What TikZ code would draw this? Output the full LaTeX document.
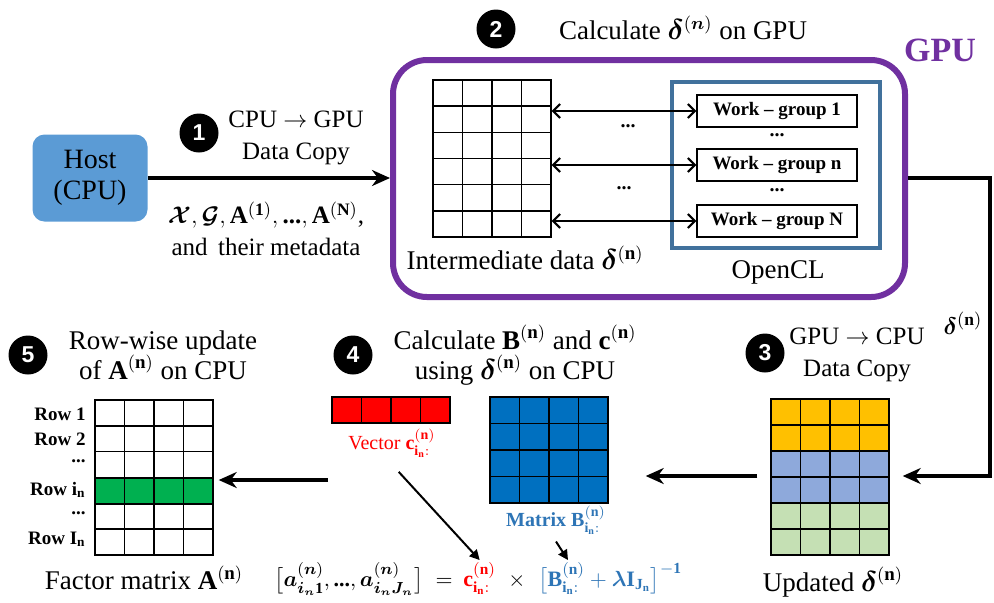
\documentclass[tikz,border=0pt]{standalone}
\usepackage{amsmath,amssymb,bm}
\usepackage{fontspec}
\setmainfont{Liberation Serif}
\setsansfont{Liberation Sans}
\usetikzlibrary{arrows.meta,fit,positioning}

\definecolor{hostblue}{HTML}{5B9BD5}
\definecolor{gpupurple}{HTML}{7030A0}
\definecolor{clblue}{HTML}{41719C}
\definecolor{vecred}{HTML}{FF0000}
\definecolor{matblue}{HTML}{0070C0}
\definecolor{labblue}{HTML}{2E75B6}
\definecolor{rowgreen}{HTML}{00B050}
\definecolor{updorange}{HTML}{FFC000}
\definecolor{updblue}{HTML}{8EA9DB}
\definecolor{updgreen}{HTML}{C5E0B4}

\newcommand{\dn}{\bm{\delta}^{(\mathbf{n})}}
\newcommand{\An}{\mathbf{A}^{(\mathbf{n})}}
\newcommand{\threedots}{\text{\bfseries ...}}
\newcommand{\lhsrow}{\bigl[\bm{a}^{(\bm{n})}_{\bm{i_n}\mathbf{1}},\threedots,\bm{a}^{(\bm{n})}_{\bm{i_n}\bm{J_n}}\bigr]\;=}
\newcommand{\cvecrow}{\mathbf{c}^{(\mathbf{n})}_{\mathbf{i_n:}}}
\newcommand{\bmatrow}{\bigl[\mathbf{B}^{(\mathbf{n})}_{\mathbf{i_n:}}+\bm{\lambda}\mathbf{I}_{\mathbf{J_n}}\bigr]}

\begin{document}
\begin{tikzpicture}[
  x=0.5pt, y=-0.5pt,
  stepnum/.style = {circle,fill=black,text=white,inner sep=0pt,minimum size=19.5pt,
    font=\sffamily\bfseries\fontsize{11.5}{11.5}\selectfont},
  lbl/.style = {align=center,inner sep=1pt,font=\fontsize{12.5}{16}\selectfont},
  ttl/.style = {align=center,inner sep=1pt,font=\fontsize{13.5}{15}\selectfont},
  frame/.style = {fit={#1},inner sep=0pt,draw,line width=0.7pt},
  wgbox/.style = {draw,line width=0.7pt,minimum width=80pt,minimum height=16pt,
    inner sep=0pt,font=\bfseries\fontsize{9.5}{11}\selectfont},
  rowlab/.style = {anchor=east,inner sep=1pt,font=\bfseries\fontsize{9.5}{11}\selectfont},
  fml/.style = {inner sep=1pt,font=\fontsize{11}{13}\selectfont},
  bigarrow/.style = {line width=2pt,-{Stealth[length=9pt,width=8pt]}},
  dblarrow/.style = {line width=1pt,{Straight Barb[length=3.5pt,width=7pt]}-{Straight Barb[length=3.5pt,width=7pt]}},
  thinarrow/.style = {line width=1pt,-{Triangle[length=5pt,width=5pt]}}
  ]
  \useasboundingbox (0,0) rectangle (994,602);

  % step 1
  \node[fill=hostblue,rounded corners=6pt,minimum width=57.5pt,minimum height=43.5pt,
    align=center,font=\fontsize{14}{15.5}\selectfont] (host) at (90,178) {Host\\(CPU)};
  \node[stepnum] (s1) at (199,133) {1};
  \node[lbl] (copy1) at (296,138) {CPU $\rightarrow$ GPU\\Data Copy};
  \node[lbl] (data1) at (266,229)
    {$\bm{\mathcal{X}},\bm{\mathcal{G}},\mathbf{A}^{(\mathbf{1})},\threedots,\mathbf{A}^{(\mathbf{N})}$,\\and\, their metadata};

  % step 2: GPU
  \node[stepnum] (s2) at (496,29) {2};
  \node[ttl] (title2) at (683,28) {Calculate $\bm{\delta}^{(\bm{n})}$ on GPU};
  \node[text=gpupurple,font=\bfseries\fontsize{17}{20}\selectfont] (gpulab) at (940,50) {GPU};
  \node[fit={(393,60) (905,297)},inner sep=0pt,draw=gpupurple,line width=3pt,
    rounded corners=17pt] (gpu) {};

  \foreach \k in {1,2,3} \draw[line width=0.7pt] ({433+\k*29.5},80) -- ({433+\k*29.5},237);
  \foreach \k in {1,...,5} \draw[line width=0.7pt] (433,{80+\k*26.17}) -- (551,{80+\k*26.17});
  \node[frame={(433,80) (551,237)}] (inter) {};
  \node[ttl] (interlab) at (525,258) {Intermediate data $\dn$};

  \node[fit={(672,82) (880,248)},inner sep=0pt,draw=clblue,line width=2pt] (ocl) {};
  \node[ttl] (ocllab) at (778,272) {OpenCL};
  \node[wgbox] (wg1) at (777,111) {Work -- group 1};
  \node[wgbox] (wgn) at (777,165) {Work -- group n};
  \node[wgbox] (wgN) at (777,221) {Work -- group N};
  \node[font=\bfseries] (dw1) at (777,135) {...};
  \node[font=\bfseries] (dw2) at (777,190) {...};
  \node[font=\bfseries] (da1) at (628,126) {...};
  \node[font=\bfseries] (da2) at (624,188) {...};

  \draw[dblarrow] (inter.east |- wg1) -- (wg1.west);
  \draw[dblarrow] (inter.east |- wgn) -- (wgn.west);
  \draw[dblarrow] (inter.east |- wgN) -- (wgN.west);

  % step 3
  \coordinate (turn1) at (990,178);
  \coordinate (turn2) at (990,476);
  \node[stepnum] (s3) at (765,353) {3};
  \node[lbl] (copy3) at (857,355) {GPU $\rightarrow$ CPU\\Data Copy};
  \node[font=\fontsize{12.5}{14}\selectfont] (dlab) at (963,323) {$\dn$};
  \foreach \r/\c in {0/updorange,1/updorange,2/updblue,3/updblue,4/updgreen,5/updgreen}
    \foreach \k in {0,...,3}
      \draw[fill=\c,line width=0.7pt] ({771+\k*29.5},{399+\r*26}) rectangle ++(29.5,26);
  \node[frame={(771,399) (889,555)}] (upd) {};
  \node[ttl] (updlab) at (833,582) {Updated $\dn$};
  \draw[bigarrow,shorten >=6.5pt] (gpu.east |- turn1) -- (turn1) -- (turn2) -- (upd.east |- turn2);

  % step 4
  \node[stepnum] (s4) at (353,355) {4};
  \node[ttl] (title4) at (515,355)
    {Calculate $\mathbf{B}^{(\mathbf{n})}$ and $\mathbf{c}^{(\mathbf{n})}$\\using $\dn$ on CPU};
  \foreach \k in {0,...,3}
    \draw[fill=vecred,line width=0.7pt] ({332+\k*29.5},397) rectangle ++(29.5,26);
  \node[frame={(332,397) (450,423)}] (vec) {};
  \node[text=vecred,font=\fontsize{10}{12}\selectfont] (vlab) at (392,443)
    {Vector $\mathbf{c}^{(\mathbf{n})}_{\mathbf{i_n:}}$};
  \foreach \r in {0,...,3}
    \foreach \k in {0,...,3}
      \draw[fill=matblue,line width=0.7pt] ({490+\k*29.5},{397+\r*26.5}) rectangle ++(29.5,26.5);
  \node[frame={(490,397) (608,503)}] (matB) {};
  \node[text=labblue,font=\bfseries\fontsize{10}{12}\selectfont] (mlab) at (556,520)
    {Matrix $\mathbf{B}^{(\mathbf{n})}_{\mathbf{i_n:}}$};
  \draw[bigarrow,shorten <=6.5pt,shorten >=18.5pt] (upd.west |- turn2) -- (matB.east |- turn2);

  % update formula
  \node[fml,anchor=base east] (flhs) at (455,586) {$\lhsrow$};
  \node[fml,anchor=base west,text=vecred] (fc) at (461,586) {$\cvecrow$};
  \node[fml,anchor=base] (ftimes) at (517,586) {$\times$};
  \node[fml,anchor=base west,text=labblue] (fB) at (536,586) {$\bmatrow^{\mathbf{-1}}$};
  \draw[thinarrow,shorten <=5pt] (vlab.south) -- (fc.north);
  \draw[thinarrow] (mlab.south) -- ([xshift=16pt]fB.north west);

  % step 5
  \node[stepnum] (s5) at (28,355) {5};
  \node[ttl] (title5) at (163,355) {Row-wise update\\of $\An$ on CPU};
  \foreach \k in {0,...,3}
    \draw[fill=rowgreen,line width=0.7pt] ({95+\k*29.5},478) rectangle ++(29.5,25.8);
  \foreach \k in {1,2,3} \draw[line width=0.7pt] ({95+\k*29.5},400) -- ({95+\k*29.5},555);
  \foreach \k in {1,...,5} \draw[line width=0.7pt] (95,{400+\k*25.8}) -- (213,{400+\k*25.8});
  \node[frame={(95,400) (213,555)}] (facA) {};
  \node[rowlab] (r1) at (88,414) {Row 1};
  \node[rowlab] (r2) at (88,439) {Row 2};
  \node[rowlab] (r3) at (88,461) {...};
  \node[rowlab] (r4) at (88,490) {Row $\mathbf{i_n}$};
  \node[rowlab] (r5) at (88,513) {...};
  \node[rowlab] (r6) at (88,539) {Row $\mathbf{I_n}$};
  \node[ttl] (factlab) at (144,578) {Factor matrix $\An$};
  \coordinate (from4) at (328,480);
  \draw[bigarrow,shorten >=2.5pt] (from4) -- (facA.east |- from4);

  % step 1 arrow
  \draw[bigarrow] (host) -- (host -| gpu.west);
\end{tikzpicture}
\end{document}
